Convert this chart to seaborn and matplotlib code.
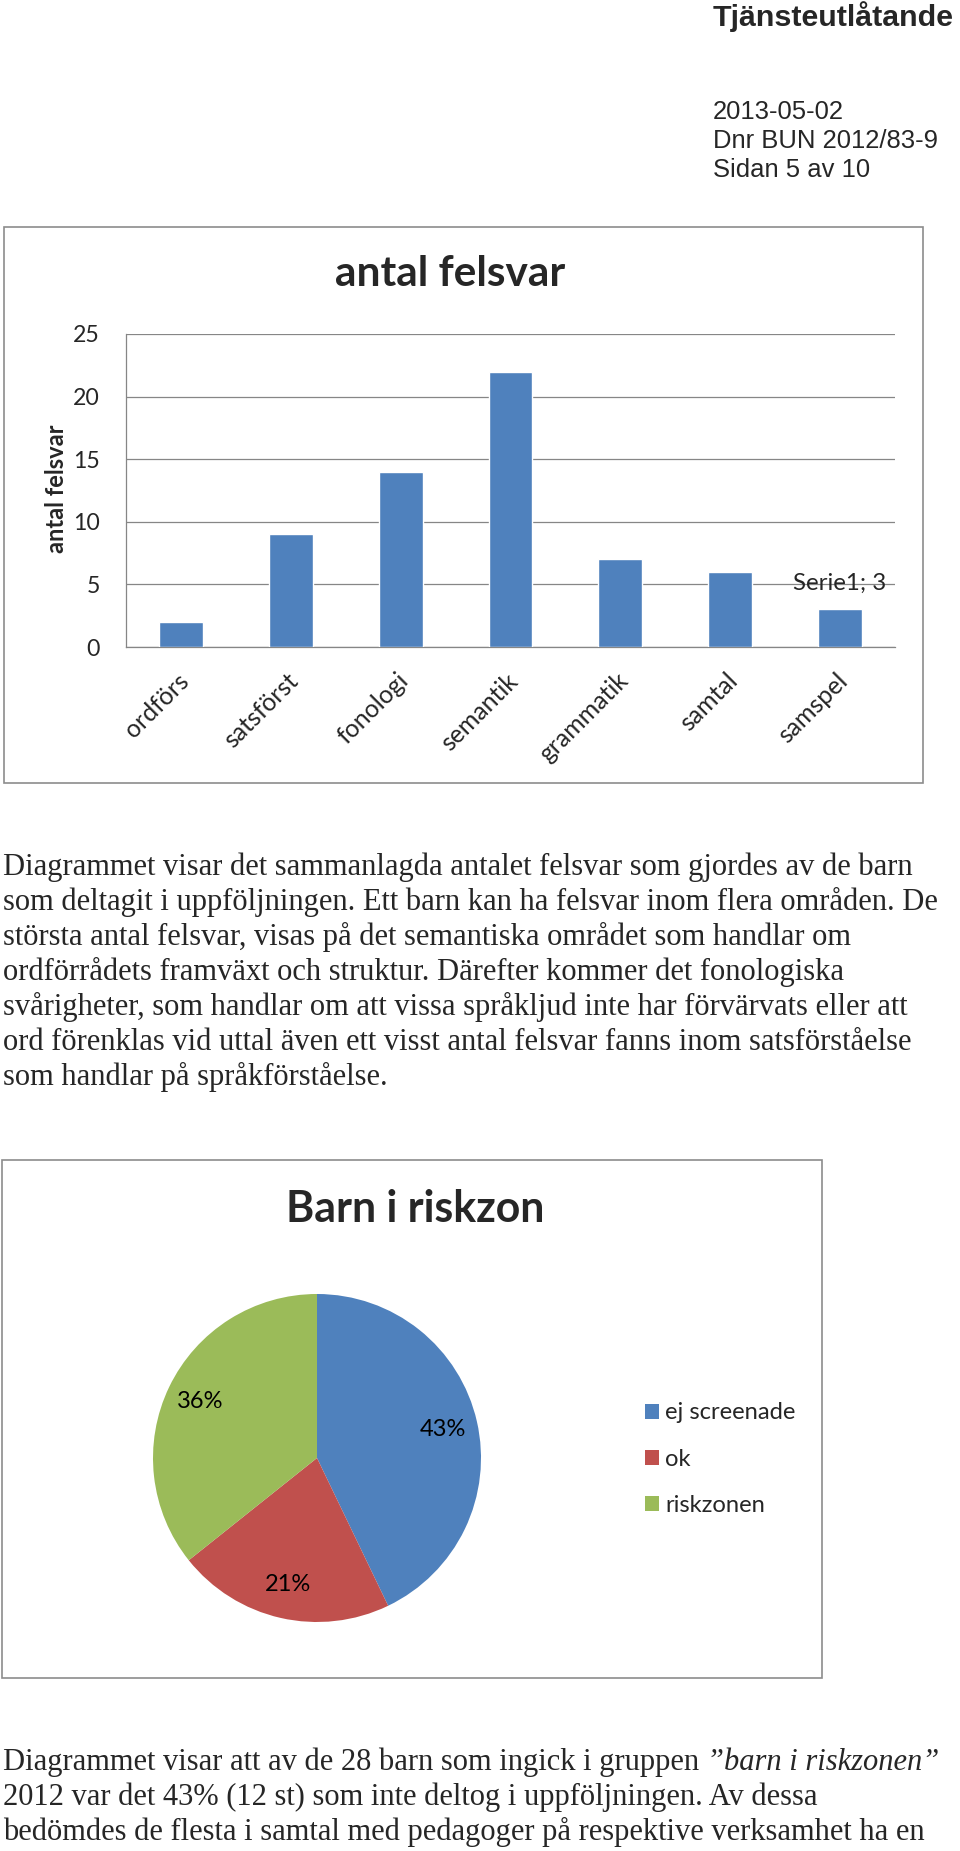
import matplotlib
matplotlib.use("Agg")
import matplotlib.pyplot as plt
import seaborn as sns
from matplotlib.textpath import TextPath
from matplotlib.font_manager import FontProperties
from matplotlib.patches import Rectangle
from matplotlib.transforms import Affine2D, ScaledTranslation

# ---------------- data ----------------
categories = ["ordförs", "satsförst", "fonologi", "semantik", "grammatik", "samtal", "samspel"]
felsvar = [2, 9, 14, 22, 7, 6, 3]
y_ticks = [0, 5, 10, 15, 20, 25]
bar_title = "antal felsvar"
bar_ylabel = "antal felsvar"
series_name = "Serie1"

pie_labels = ["ej screenade", "ok", "riskzonen"]
pie_counts = [12, 6, 10]
pie_title = "Barn i riskzon"

header_title = "Tjänsteutlåtande"
header_lines = ["2013-05-02", "Dnr BUN 2012/83-9", "Sidan 5 av 10"]

para1 = [
    "Diagrammet visar det sammanlagda antalet felsvar som gjordes av de barn",
    "som deltagit i uppföljningen. Ett barn kan ha felsvar inom flera områden. De",
    "största antal felsvar, visas på det semantiska området som handlar om",
    "ordförrådets framväxt och struktur. Därefter kommer det fonologiska",
    "svårigheter, som handlar om att vissa språkljud inte har förvärvats eller att",
    "ord förenklas vid uttal även ett visst antal felsvar fanns inom satsförståelse",
    "som handlar på språkförståelse.",
]
para2_first = "Diagrammet visar att av de 28 barn som ingick i gruppen "
para2_first_italic = "\u201dbarn i riskzonen\u201d"
para2_rest = [
    "2012 var det 43% (12 st) som inte deltog i uppföljningen. Av dessa",
    "bedömdes de flesta i samtal med pedagoger på respektive verksamhet ha en",
]

# ---------------- style ----------------
W, H, DPI = 960, 1851, 100
BLUE, RED, GREEN = "#4F81BD", "#C0504D", "#9BBB59"
GRID = "#868686"
BORDER = "#8C8C8C"
CHART_FONT = "Lato"
SANS = "Liberation Sans"
SERIF = "Liberation Serif"

sns.set_style("white")
plt.rcParams["font.family"] = [CHART_FONT, "DejaVu Sans"]

fig = plt.figure(figsize=(W / DPI, H / DPI), dpi=DPI)
fig.patch.set_facecolor("white")
PX = Affine2D().scale(1 / W, -1 / H).translate(0, 1) + fig.transFigure


def fit(text, target_px, family, weight="normal", style="normal"):
    fp = FontProperties(family=family, weight=weight, style=style)
    w = TextPath((0, 0), text, size=10, prop=fp).get_extents().width
    return 10 * target_px / (w * DPI / 72)


def axes_px(x0, y0, x1, y1):
    return fig.add_axes([x0 / W, 1 - y1 / H, (x1 - x0) / W, (y1 - y0) / H])


def pt(px):
    return px * 72 / DPI


# ---------------- header ----------------
fig.text(713, 26, header_title, transform=PX, ha="left", va="baseline",
         fontsize=fit(header_title, 240, SANS, "bold"), family=SANS, weight="bold")
fs_hdr = fit(header_lines[1], 222, SANS)
for i, line in enumerate(header_lines):
    fig.text(713, 119 + 29 * i, line, transform=PX, ha="left", va="baseline",
             fontsize=fs_hdr, family=SANS)

# ---------------- bar chart ----------------
fig.add_artist(Rectangle((4, 227), 919, 556, transform=PX, fill=False, ec=BORDER, lw=1.2))
fig.text(450, 286, bar_title, transform=PX, ha="center", va="baseline",
         fontsize=fit(bar_title, 229, CHART_FONT, "bold"), weight="bold")

ax = axes_px(126, 334, 895, 647)
sns.barplot(x=categories, y=felsvar, color=BLUE, saturation=1, width=0.4,
            errorbar=None, ax=ax, zorder=3)
ax.set_xlim(-0.5, len(categories) - 0.5)
ax.set_ylim(y_ticks[0], y_ticks[-1])
ax.set_yticks(y_ticks)
ax.set_yticklabels([str(t) for t in y_ticks])
ax.grid(axis="y", color=GRID, lw=0.9)
ax.grid(axis="x", visible=False)
ax.set_axisbelow(True)
for s in ["top", "right"]:
    ax.spines[s].set_visible(False)
for s in ["left", "bottom"]:
    ax.spines[s].set_color(GRID)
    ax.spines[s].set_linewidth(0.9)
ax.set_xlabel("")
ax.set_ylabel("")
fs_ytick = fit("25", 23, CHART_FONT) * 1.05
fs_xtick = fit("semantik", 90, CHART_FONT) * 1.08
ax.tick_params(axis="y", length=0, pad=pt(26), labelsize=fs_ytick)
ax.tick_params(axis="x", length=0, pad=pt(30), labelsize=fs_xtick)
shift = ScaledTranslation(4 / DPI, 0, fig.dpi_scale_trans)
for lab in ax.get_xticklabels():
    lab.set_rotation(45)
    lab.set_rotation_mode("anchor")
    lab.set_ha("right")
    lab.set_va("center")
    lab.set_transform(lab.get_transform() + shift)

# y-axis title (rotated), placed in page pixels
fig.text(56, 489, bar_ylabel, transform=PX, rotation=90, ha="center", va="center",
         rotation_mode="anchor", fontsize=fit(bar_ylabel, 128, CHART_FONT, "bold"),
         weight="bold")

ax.annotate(f"{series_name}; {felsvar[-1]}", xy=(len(categories) - 1, felsvar[-1]),
            xytext=(0, pt(26)), textcoords="offset points", ha="center", va="center",
            fontsize=fit(f"{series_name}; {felsvar[-1]}", 91, CHART_FONT))

# ---------------- paragraph 1 ----------------
fs_body = fit(para1[0], 909, SERIF)
for i, line in enumerate(para1):
    fig.text(3, 875 + 35 * i, line, transform=PX, ha="left", va="baseline",
             fontsize=fs_body, family=SERIF)

# ---------------- pie chart ----------------
fig.add_artist(Rectangle((2, 1160), 820, 518, transform=PX, fill=False, ec=BORDER, lw=1.2))
fig.text(415, 1222, pie_title, transform=PX, ha="center", va="baseline",
         fontsize=fit(pie_title, 253, CHART_FONT, "bold"), weight="bold")

axp = axes_px(153, 1294, 481, 1622)
wedges, _, autotexts = axp.pie(
    pie_counts, colors=[BLUE, RED, GREEN], startangle=90, counterclock=False,
    autopct=lambda p: f"{p:.0f}%", pctdistance=0.79, radius=1,
    wedgeprops=dict(linewidth=0),
    textprops=dict(fontsize=fit("43%", 45, CHART_FONT), color="black"))
axp.set_xlim(-1, 1)
axp.set_ylim(-1, 1)
axp.set_aspect("equal")
axp.axis("off")

fs_leg = fit("ej screenade", 129, CHART_FONT)
fs_leg_px = fs_leg * DPI / 72
row_h = 1.2 * fs_leg_px - 7.5
leg = fig.legend(
    wedges, pie_labels, loc="upper left",
    bbox_to_anchor=(645 / W, 1 - (1413 - row_h / 2) / H),
    frameon=False, fontsize=fs_leg, borderpad=0, borderaxespad=0,
    handlelength=14 / fs_leg_px, handleheight=14 / fs_leg_px,
    handletextpad=6 / fs_leg_px, labelspacing=(46.5 - row_h) / fs_leg_px)

# ---------------- paragraph 2 ----------------
renderer = fig.canvas.get_renderer()
t0 = fig.text(3, 1770, para2_first, transform=PX, ha="left", va="baseline",
              fontsize=fs_body, family=SERIF)
bb = t0.get_window_extent(renderer)
fig.text(bb.x1 / W, 1 - 1770 / H, para2_first_italic, transform=fig.transFigure,
         ha="left", va="baseline", fontsize=fs_body, family=SERIF, style="italic")
for i, line in enumerate(para2_rest):
    fig.text(3, 1805 + 35 * i, line, transform=PX, ha="left", va="baseline",
             fontsize=fs_body, family=SERIF)

fig.savefig("out.png", dpi=DPI, facecolor="white")
